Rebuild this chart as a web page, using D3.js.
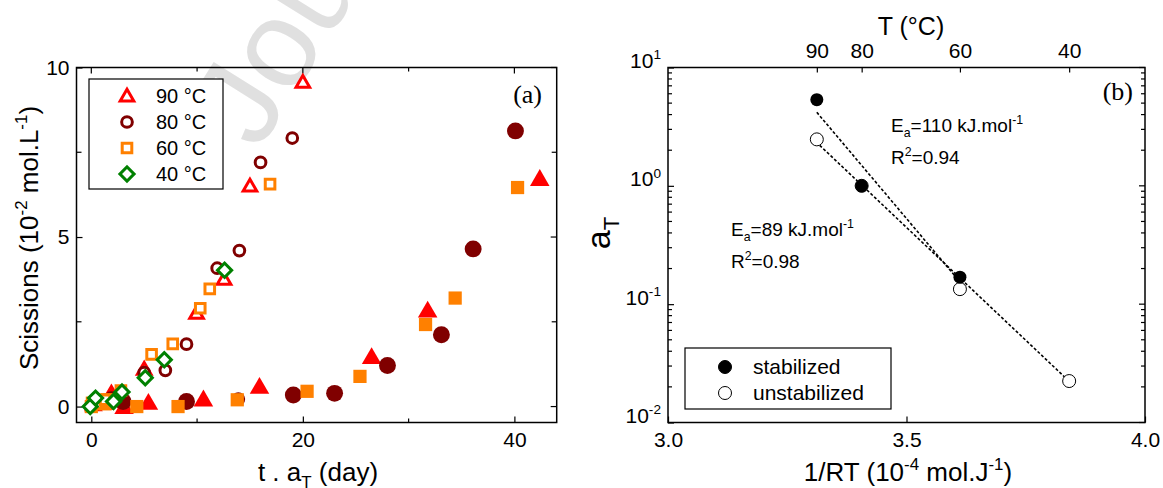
<!DOCTYPE html>
<html>
<head>
<meta charset="utf-8">
<script src="https://cdn.jsdelivr.net/npm/d3@7"></script>
<style>
  body { margin: 0; background: #fff; }
  svg { display: block; font-family: "Liberation Sans", Arial, sans-serif; }
</style>
</head>
<body>
<script>
// ---- panel (a) data : [t.aT (day), scissions (1e-2 mol/L)]
var tri90Open = [[0.2,0.05],[1.8,0.3],[5.0,1.1],[9.95,2.75],[12.55,3.75],[15.0,6.5],[20.0,9.56]];
var tri90Filled = [[1.2,0.1],[1.9,0.38],[3.1,-0.02],[5.4,0.1],[10.6,0.2],[15.9,0.57],[26.5,1.45],[31.8,2.82],[42.4,6.7]];
var circ80Open = [[1.5,0.15],[5.0,1.0],[7.0,1.07],[9.0,1.84],[11.9,4.08],[14.0,4.6],[16.0,7.2],[19.0,7.92],[13.9,0.22]];
var circ80Filled = [[1.9,0.2],[3.0,0.15],[9.0,0.15],[19.1,0.34],[23.0,0.39],[28.0,1.21],[33.1,2.12],[36.1,4.65],[40.1,8.13]];
var sq60Open = [[0.5,0.1],[1.3,0.2],[2.8,0.47],[5.7,1.54],[7.7,1.85],[10.3,2.9],[11.2,3.47],[16.9,6.56]];
var sq60Filled = [[0,0],[0.1,0.1],[0.9,0.18],[1.5,0.2],[1.3,0.08],[4.3,0.0],[8.2,0.0],[13.8,0.2],[20.4,0.45],[25.4,0.89],[31.6,2.42],[34.4,3.2],[40.3,6.46]];
var dia40Open = [[-0.1,0.0],[0.4,0.25],[2.1,0.15],[2.9,0.43],[5.1,0.85],[6.9,1.38],[12.6,4.02]];
var legendA = ["90 °C","80 °C","60 °C","40 °C"];
var xTicksA = [0,20,40], xMinorA = [10,30];
var yTicksA = [0,5,10], yMinorA = [2.5,7.5];

// ---- panel (b) data
var tempsC = [90,80,60,40];
var invRT = [3.312,3.406,3.612,3.841];
var aTstab = [5.35,1.0,0.169];
var aTunstab = [2.47,1.0,0.134,0.0224];
var fitStab = [[3.312,4.18],[3.61,0.158]];
var fitUnstab = [[3.318,2.2],[3.835,0.0235]];
var xTicksB = [3.0,3.5,4.0];
var yTicksB = [0.01,0.1,1,10];
var legendB = ["stabilized","unstabilized"];

var W = 1163, H = 488;
var svg = d3.select("body").append("svg").attr("width", W).attr("height", H);

var RED = "#ff0000", MAROON = "#800000", ORANGE = "#ff8000", GREEN = "#008000";

// watermark
svg.append("text")
  .attr("transform", "translate(258,152) rotate(-58)")
  .attr("font-size", 124)
  .attr("fill", "#e0e0e0")
  .text("Journal Pre-proof");

// text with sub/superscripts, parts = [[text, 0|1|-1], ...]
function rich(sel, parts, fs) {
  var shift = 0;
  parts.forEach(function (p) {
    var target = p[1] === 1 ? -0.42 * fs : p[1] === -1 ? 0.25 * fs : 0;
    sel.append("tspan")
      .attr("dy", target - shift)
      .attr("font-size", p[1] ? fs * 0.65 : fs)
      .text(p[0]);
    shift = target;
  });
  return sel;
}

var yTop = 67.5, yBot = 422.5;

// ================= panel (a)
var xa = d3.scaleLinear().domain([-1.4, 44]).range([76.5, 556.7]);
var ya = d3.scaleLinear().domain([-0.47, 10]).range([yBot, yTop]);
var ga = svg.append("g");

function ticks(g, scale, vals, orient, len, pos) {
  vals.forEach(function (v) {
    var p = scale(v);
    if (orient === "x") g.append("line").attr("x1", p).attr("x2", p).attr("y1", pos).attr("y2", pos + len);
    else g.append("line").attr("y1", p).attr("y2", p).attr("x1", pos).attr("x2", pos + len);
  });
  g.selectAll("line").attr("stroke", "#000").attr("stroke-width", 1.2);
}

function styleAxis(g) {
  g.select(".domain").remove();
  g.selectAll("text").attr("font-size", 21).attr("font-family", null);
  g.selectAll("line").attr("stroke-width", 1.2);
}

var axA = ga.append("g");
ga.append("g").attr("transform", "translate(0," + yBot + ")")
  .call(d3.axisBottom(xa).tickValues(xTicksA).tickSize(-6).tickPadding(10).tickFormat(d3.format("d")))
  .call(styleAxis);
ga.append("g").attr("transform", "translate(" + xa.range()[0] + ",0)")
  .call(d3.axisLeft(ya).tickValues(yTicksA).tickSize(-6).tickPadding(7).tickFormat(d3.format("d")))
  .call(styleAxis);
ticks(axA, xa, xTicksA, "x", 6, yTop);
ticks(axA, xa, xMinorA, "x", 4, yTop);
ticks(axA, xa, xMinorA, "x", -4, yBot);
ticks(axA, ya, yTicksA, "y", -6, xa.range()[1]);
ticks(axA, ya, yMinorA, "y", -5, xa.range()[1]);
ticks(axA, ya, yMinorA, "y", 5, xa.range()[0]);

ga.append("rect").attr("x", 76.5).attr("y", yTop).attr("width", 556.7 - 76.5).attr("height", yBot - yTop)
  .attr("fill", "none").attr("stroke", "#000").attr("stroke-width", 1.5);

var sym = {
  tri: d3.symbol().type(d3.symbolTriangle),
  circ: d3.symbol().type(d3.symbolCircle),
  sq: d3.symbol().type(d3.symbolSquare),
  dia: d3.symbol().type(d3.symbolSquare)
};

function markers(g, data, kind, color, filled, xs, ys) {
  var sizes = { tri: filled ? 165 : 80, circ: filled ? 225 : 90, sq: filled ? 175 : 92, dia: 100 };
  g.selectAll(null).data(data).enter().append("path")
    .attr("d", sym[kind].size(sizes[kind]))
    .attr("transform", function (d) {
      var t = "translate(" + xs(d[0]) + "," + ys(d[1]) + ")";
      if (kind === "tri") t += " translate(0,1)";
      if (kind === "dia") t += " rotate(45)";
      return t;
    })
    .attr("fill", filled ? color : "#fff")
    .attr("stroke", color)
    .attr("stroke-width", filled ? 0 : 3);
}

var pa = ga.append("g");
markers(pa, tri90Filled, "tri", RED, true, xa, ya);
markers(pa, tri90Open, "tri", RED, false, xa, ya);
markers(pa, circ80Open, "circ", MAROON, false, xa, ya);
markers(pa, circ80Filled, "circ", MAROON, true, xa, ya);
markers(pa, sq60Filled, "sq", ORANGE, true, xa, ya);
markers(pa, sq60Open, "sq", ORANGE, false, xa, ya);
markers(pa, dia40Open, "dia", GREEN, false, xa, ya);

// legend (a)
var lga = ga.append("g");
lga.append("rect").attr("x", 89).attr("y", 79).attr("width", 134).attr("height", 110)
  .attr("fill", "#fff").attr("stroke", "#000").attr("stroke-width", 1.2);
var kinds = [["tri", RED], ["circ", MAROON], ["sq", ORANGE], ["dia", GREEN]];
legendA.forEach(function (lab, i) {
  var yy = 96 + i * 26;
  markers(lga, [[0, 0]], kinds[i][0], kinds[i][1], false,
    function () { return 127; }, function () { return yy; });
  lga.append("text").attr("x", 156).attr("y", yy + 7).attr("font-size", 20).text(lab);
});

ga.append("text").attr("x", 542).attr("y", 103).attr("text-anchor", "end")
  .attr("font-family", "Liberation Serif, Times New Roman, serif").attr("font-size", 26).text("(a)");

rich(ga.append("text").attr("x", 318).attr("y", 481).attr("text-anchor", "middle").attr("font-size", 26),
  [["t . a", 0], ["T", -1], [" (day)", 0]], 26);
rich(ga.append("text").attr("transform", "translate(38,238) rotate(-90)").attr("text-anchor", "middle").attr("font-size", 26),
  [["Scissions (10", 0], ["-2", 1], [" mol.L", 0], ["-1", 1], [")", 0]], 26);

// ================= panel (b)
var xb = d3.scaleLinear().domain([3, 4]).range([668, 1145]);
var yb = d3.scaleLog().domain([0.01, 10]).range([yBot, yTop]);
var gb = svg.append("g");

gb.append("g").attr("transform", "translate(0," + yBot + ")")
  .call(d3.axisBottom(xb).tickValues(xTicksB).tickSize(-6).tickPadding(10).tickFormat(d3.format(".1f")))
  .call(styleAxis);

gb.append("g").attr("transform", "translate(0," + yTop + ")")
  .call(d3.axisTop(xb).tickValues(invRT).tickSize(-5).tickPadding(10).tickFormat(function (d, i) { return tempsC[i]; }))
  .call(styleAxis);

var ylab = gb.append("g").attr("transform", "translate(668,0)")
  .call(d3.axisLeft(yb).tickValues(yTicksB).tickSize(-6).tickPadding(7).tickFormat(""))
  .call(styleAxis);
ylab.selectAll(".tick text").each(function (d) {
  var t = d3.select(this).attr("dy", "0.4em");
  rich(t, [["10", 0], [String(Math.round(Math.log10(d))), 1]], 21);
});

var minorB = [];
[0.01, 0.1, 1].forEach(function (dec) { for (var k = 2; k <= 9; k++) minorB.push(dec * k); });
var axB = gb.append("g");
ticks(axB, yb, minorB, "y", 4, 668);
ticks(axB, yb, minorB, "y", -4, 1145);
ticks(axB, yb, yTicksB, "y", -6, 1145);

gb.append("rect").attr("x", 668).attr("y", yTop).attr("width", 1145 - 668).attr("height", yBot - yTop)
  .attr("fill", "none").attr("stroke", "#000").attr("stroke-width", 1.5);

var line = d3.line().x(function (d) { return xb(d[0]); }).y(function (d) { return yb(d[1]); });
[fitStab, fitUnstab].forEach(function (f) {
  gb.append("path").attr("d", line(f)).attr("fill", "none").attr("stroke", "#000")
    .attr("stroke-width", 1.6).attr("stroke-dasharray", "3,2");
});

gb.selectAll(null).data(aTunstab).enter().append("circle")
  .attr("cx", function (d, i) { return xb(invRT[i]); }).attr("cy", function (d) { return yb(d); })
  .attr("r", 6.5).attr("fill", "#fff").attr("stroke", "#000").attr("stroke-width", 1);
gb.selectAll(null).data(aTstab).enter().append("circle")
  .attr("cx", function (d, i) { return xb(invRT[i]); }).attr("cy", function (d) { return yb(d); })
  .attr("r", 6.5).attr("fill", "#000");

// annotations
rich(gb.append("text").attr("x", 891).attr("y", 132).attr("font-size", 19),
  [["E", 0], ["a", -1], ["=110 kJ.mol", 0], ["-1", 1]], 19);
rich(gb.append("text").attr("x", 891).attr("y", 164).attr("font-size", 19),
  [["R", 0], ["2", 1], ["=0.94", 0]], 19);
rich(gb.append("text").attr("x", 731).attr("y", 236).attr("font-size", 19),
  [["E", 0], ["a", -1], ["=89 kJ.mol", 0], ["-1", 1]], 19);
rich(gb.append("text").attr("x", 731).attr("y", 268).attr("font-size", 19),
  [["R", 0], ["2", 1], ["=0.98", 0]], 19);

// legend (b)
var lgb = gb.append("g");
lgb.append("rect").attr("x", 685).attr("y", 348).attr("width", 206).attr("height", 61)
  .attr("fill", "#fff").attr("stroke", "#000").attr("stroke-width", 1.2);
legendB.forEach(function (lab, i) {
  var yy = 367 + i * 26;
  lgb.append("circle").attr("cx", 725).attr("cy", yy).attr("r", 6.5)
    .attr("fill", i ? "#fff" : "#000").attr("stroke", "#000").attr("stroke-width", 1);
  lgb.append("text").attr("x", 753).attr("y", yy + 7).attr("font-size", 21).text(lab);
});

gb.append("text").attr("x", 1133).attr("y", 100).attr("text-anchor", "end")
  .attr("font-family", "Liberation Serif, Times New Roman, serif").attr("font-size", 26).text("(b)");

gb.append("text").attr("x", 911).attr("y", 35).attr("text-anchor", "middle").attr("font-size", 25).text("T (°C)");
rich(gb.append("text").attr("x", 908).attr("y", 481).attr("text-anchor", "middle").attr("font-size", 26),
  [["1/RT (10", 0], ["-4", 1], [" mol.J", 0], ["-1", 1], [")", 0]], 26);
rich(gb.append("text").attr("transform", "translate(610,233) rotate(-90)").attr("text-anchor", "middle").attr("font-size", 34),
  [["a", 0], ["T", -1]], 34);
</script>
</body>
</html>
